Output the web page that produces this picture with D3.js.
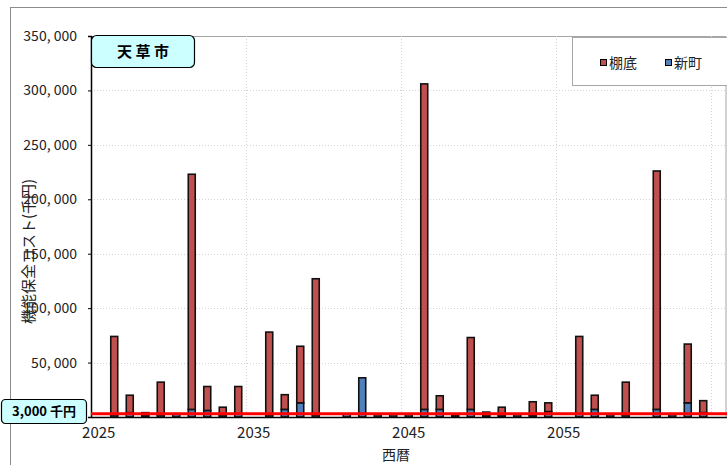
<!DOCTYPE html>
<html>
<head>
<meta charset="utf-8">
<script src="https://cdn.jsdelivr.net/npm/d3@7/dist/d3.min.js"></script>
<style>
  html, body { margin: 0; padding: 0; background: #fff; }
  svg { display: block; }
  text { font-family: "Noto Sans CJK JP", "DejaVu Sans", sans-serif; }
</style>
</head>
<body>
<svg id="chart" width="727" height="465"></svg>
<script>
// 年度（西暦）
const years = d3.range(2025, 2066);

// 棚底 — 機能保全コスト（千円）
const tanasoko = [
  0, 72000, 16000, 3000, 30000, 500, 216000, 22000, 8000, 25000,
  0, 76000, 13500, 52000, 125000, 0, 0, 0, 0, 0,
  0, 299000, 12500, 0, 66000, 3500, 8000, 0, 12500, 8000,
  0, 71000, 13000, 0, 30000, 0, 219000, 0, 54000, 11000,
  0
];

// 新町 — 機能保全コスト（千円）
const shinmachi = [
  0, 2000, 4000, 1000, 2000, 2500, 7000, 6000, 1000, 3000,
  0, 2000, 7000, 13000, 2000, 0, 3000, 36000, 2000, 2000,
  2000, 7000, 7000, 1500, 7000, 1000, 1000, 2000, 1500, 5000,
  0, 3000, 7000, 2000, 2000, 0, 7000, 2000, 13000, 4000,
  0
];

// 目盛（0 は基準値ラベルの下に隠れるため表示しない）
const yTicks = [50000, 100000, 150000, 200000, 250000, 300000, 350000];
const xTickYears = [2025, 2035, 2045, 2055];
const gridYears = [2035, 2045, 2055, 2065];
const thresholdValue = 3000;

const seriesNames = { tanasoko: "棚底", shinmachi: "新町" };
const colors = { tanasoko: "#c0504d", shinmachi: "#4f81bd" };

const svg = d3.select("#chart");
const W = 727, H = 465;
const plot = { left: 91, top: 36, right: 726.5, bottom: 417 };

// 外枠
svg.append("rect")
  .attr("x", 10.5).attr("y", 7.5)
  .attr("width", W).attr("height", H)
  .attr("fill", "#fff").attr("stroke", "#8c8c8c").attr("stroke-width", 1);

const x = d3.scaleBand().domain(years).range([plot.left, plot.right]).padding(0);
const y = d3.scaleLinear().domain([0, 350000]).range([plot.bottom, plot.top]);

// プロットエリア枠（上・右）
svg.append("path")
  .attr("d", `M${plot.left},${plot.top + 0.5}H${plot.right - 0.5}V${plot.bottom}`)
  .attr("fill", "none").attr("stroke", "#a6a6a6").attr("stroke-width", 1);

// 横グリッド
svg.append("g")
  .selectAll("line")
  .data(yTicks.filter(d => d < 350000))
  .join("line")
  .attr("x1", plot.left).attr("x2", plot.right)
  .attr("y1", d => Math.round(y(d)) + 0.5).attr("y2", d => Math.round(y(d)) + 0.5)
  .attr("stroke", "#d4d4d4").attr("stroke-dasharray", "1,2");

// 縦グリッド
svg.append("g")
  .selectAll("line")
  .data(gridYears)
  .join("line")
  .attr("x1", d => Math.round(x(d)) + 0.5).attr("x2", d => Math.round(x(d)) + 0.5)
  .attr("y1", plot.top).attr("y2", plot.bottom)
  .attr("stroke", "#d4d4d4").attr("stroke-dasharray", "1,2");

// 積み上げ棒
const rows = years.map((yr, i) => ({ year: yr, shinmachi: shinmachi[i], tanasoko: tanasoko[i] }));
const stacked = d3.stack().keys(["shinmachi", "tanasoko"])(rows);
const barW = x.bandwidth() * 0.45;

svg.append("g")
  .selectAll("g")
  .data(stacked)
  .join("g")
  .attr("fill", d => colors[d.key])
  .selectAll("rect")
  .data(d => d.filter(p => p[1] - p[0] > 0))
  .join("rect")
  .attr("x", p => x(p.data.year) + (x.bandwidth() - barW) / 2)
  .attr("y", p => y(p[1]))
  .attr("width", barW)
  .attr("height", p => y(p[0]) - y(p[1]))
  .attr("stroke", "#111")
  .attr("stroke-width", 1.6);

// Y軸
const fmt = d => d3.format(",")(d).replace(",", ", ");
const yAxis = svg.append("g")
  .attr("transform", `translate(${plot.left},0)`)
  .call(d3.axisLeft(y).tickValues(yTicks).tickFormat(fmt).tickSize(3).tickPadding(11));
yAxis.select(".domain").attr("stroke", "#000").attr("stroke-width", 1.5);
yAxis.selectAll(".tick line").attr("stroke", "#000");
yAxis.selectAll("text").attr("font-size", 14).attr("fill", "#222");

// X軸
const xAxis = svg.append("g")
  .attr("transform", `translate(0,${plot.bottom})`)
  .call(d3.axisBottom(x).tickValues(xTickYears).tickSize(0).tickPadding(10));
xAxis.select(".domain").attr("stroke", "#000").attr("stroke-width", 1.5);
xAxis.selectAll("text").attr("font-size", 15).attr("fill", "#222");

// 3,000千円ライン
svg.append("line")
  .attr("x1", plot.left).attr("x2", W)
  .attr("y1", y(thresholdValue)).attr("y2", y(thresholdValue))
  .attr("stroke", "#ff0000").attr("stroke-width", 3);

// 軸タイトル
svg.append("text")
  .attr("transform", `translate(34,${(plot.top + plot.bottom) / 2 + 25}) rotate(-90)`)
  .attr("text-anchor", "middle")
  .attr("font-size", 15).attr("fill", "#222")
  .text("機能保全コスト(千円)");

svg.append("text")
  .attr("x", 396).attr("y", 460)
  .attr("text-anchor", "middle")
  .attr("font-size", 14).attr("fill", "#222")
  .text("西暦");

// 市名ラベル
svg.append("rect")
  .attr("x", 91.5).attr("y", 35.5).attr("width", 103).attr("height", 32).attr("rx", 5)
  .attr("fill", "#ccffff").attr("stroke", "#000").attr("stroke-width", 1.2);
svg.append("text")
  .attr("x", 143).attr("y", 52).attr("dy", "0.35em")
  .attr("text-anchor", "middle").attr("font-size", 15).attr("font-weight", "bold")
  .text("天 草 市");

// 基準値ラベル
svg.append("rect")
  .attr("x", 1.5).attr("y", 399.5).attr("width", 85).attr("height", 24).attr("rx", 4)
  .attr("fill", "#ccffff").attr("stroke", "#000").attr("stroke-width", 1.2);
svg.append("text")
  .attr("x", 44).attr("y", 411.5).attr("dy", "0.35em")
  .attr("text-anchor", "middle").attr("font-size", 13).attr("font-weight", "bold")
  .text("3,000 千円");

// 凡例
const legend = svg.append("g");
legend.append("rect")
  .attr("x", 572.5).attr("y", 37.5).attr("width", 160).attr("height", 48)
  .attr("fill", "#fff").attr("stroke", "#a6a6a6");
const legendItems = [
  { key: "tanasoko", x: 600 },
  { key: "shinmachi", x: 665 }
];
const li = legend.selectAll("g.item").data(legendItems).join("g").attr("class", "item");
li.append("rect")
  .attr("x", d => d.x + 0.5).attr("y", 59.5).attr("width", 6).attr("height", 6)
  .attr("fill", d => colors[d.key]).attr("stroke", "#000");
li.append("text")
  .attr("x", d => d.x + 9).attr("y", 63).attr("dy", "0.35em")
  .attr("font-size", 14).attr("fill", "#222")
  .text(d => seriesNames[d.key]);
</script>
</body>
</html>
